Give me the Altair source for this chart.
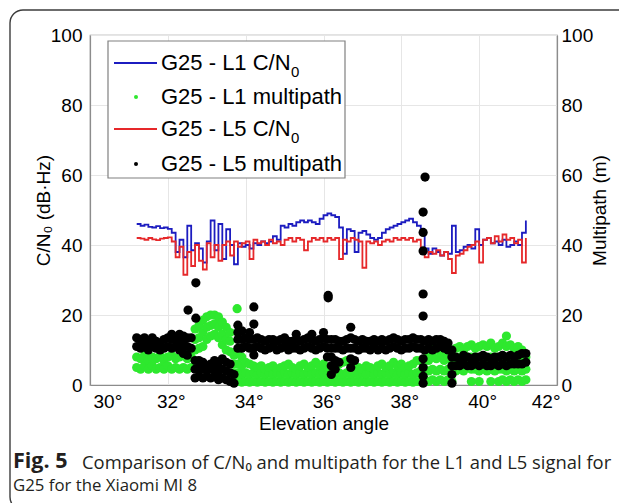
import altair as alt
import pandas as pd

# ---------------- data ----------------
ANGLES = [31.2, 31.3, 31.4, 31.5, 31.6, 31.7, 31.8, 31.9, 32.0, 32.1,
          32.2, 32.3, 32.4, 32.5, 32.6, 32.7, 32.8, 32.9, 33.0, 33.1,
          33.2, 33.3, 33.4, 33.5, 33.6, 33.7, 33.8, 33.9, 34.0, 34.1,
          34.2, 34.3, 34.4, 34.5, 34.6, 34.7, 34.8, 34.9, 35.0, 35.1,
          35.2, 35.3, 35.4, 35.5, 35.6, 35.7, 35.8, 35.9, 36.0, 36.1,
          36.2, 36.3, 36.4, 36.5, 36.6, 36.7, 36.8, 36.9, 37.0, 37.1,
          37.2, 37.3, 37.4, 37.5, 37.6, 37.7, 37.8, 37.9, 38.0, 38.1,
          38.2, 38.3, 38.4, 38.5, 38.6, 38.7, 38.8, 38.9, 39.0, 39.1,
          39.2, 39.3, 39.4, 39.5, 39.6, 39.7, 39.8, 39.9, 40.0, 40.1,
          40.2, 40.3, 40.4, 40.5, 40.6, 40.7, 40.8, 40.9, 41.0, 41.1,
          41.2]

L1_CN0 = [46.0, 45.5, 45.8, 45.2, 45.0, 45.4, 44.8, 45.0, 44.6, 43.5,
          38.0, 41.5, 36.5, 45.5, 38.5, 40.5, 39.0, 35.0, 41.0, 47.0,
          38.5, 46.0, 36.0, 44.5, 40.0, 34.5, 40.5, 39.5, 40.0, 39.0,
          40.5, 40.0, 41.0, 40.5, 41.0, 42.5, 41.5, 45.5, 45.0, 46.0,
          45.5, 46.5, 47.0, 46.5, 47.0, 46.5, 46.0, 47.5, 48.5, 49.0,
          48.5, 48.0, 45.0, 37.5, 44.5, 44.0, 38.0, 43.5, 44.0, 43.0,
          42.0, 41.5, 42.0, 43.5, 44.5, 45.0, 45.5, 46.0, 46.5, 47.0,
          47.5, 46.5, 45.5, 44.0, 39.0, 37.5, 39.0, 38.0, 37.0, 38.0,
          37.5, 45.5, 38.0, 38.5, 39.5, 40.0, 39.0, 44.5, 40.0, 41.5,
          42.0, 40.5, 41.0, 40.0, 41.5, 39.5, 40.0, 41.0, 40.0, 43.5,
          47.0]

L5_CN0 = [42.0, 41.8, 41.5, 42.0, 41.6, 41.4, 41.8, 42.0, 42.2, 41.0,
          36.5, 39.5, 31.5, 38.0, 34.0, 40.0, 35.5, 33.0, 40.5, 36.5,
          40.0, 35.5, 40.0, 41.0, 37.0, 41.0, 39.5, 40.5, 41.0, 36.0,
          41.5, 40.5, 41.0, 40.0, 41.5, 40.5, 41.0, 40.0, 41.5, 42.0,
          41.0, 42.0, 41.5, 38.5, 41.0, 42.0, 41.5, 42.0, 41.0, 42.0,
          41.5, 42.0, 36.0, 41.5, 41.0, 42.0, 41.5, 41.0, 33.5, 41.0,
          40.5, 41.0, 40.0, 41.0, 41.5, 41.0, 42.0, 41.5, 42.0, 41.5,
          42.0, 41.0, 41.5, 38.5, 36.5, 38.0, 37.5, 38.5, 37.0, 38.0,
          36.0, 32.0, 37.0, 37.5, 38.5, 39.5, 40.0, 41.0, 35.0, 41.5,
          42.0, 40.5, 42.5, 41.0, 43.0, 41.5, 42.0, 40.5, 41.5, 35.0,
          42.0]

L1_MP_ANGLE = [31.2, 31.3, 31.4, 31.5, 31.6, 31.7, 31.8, 31.9, 32.0, 32.1,
               32.2, 32.3, 32.4, 32.5, 32.6, 32.7, 32.8, 32.9, 33.0, 33.1,
               33.2, 33.3, 33.4, 33.5, 33.6, 33.78, 33.7, 33.8, 33.9, 34.0,
               34.1, 34.2, 34.3, 34.4, 34.5, 34.6, 34.7, 34.8, 34.9, 35.0,
               35.1, 35.2, 35.3, 35.4, 35.5, 35.6, 35.7, 35.8, 35.9, 36.0,
               36.1, 36.2, 36.3, 36.4, 36.5, 36.6, 36.7, 36.8, 36.9, 37.0,
               37.1, 37.2, 37.3, 37.4, 37.5, 37.6, 37.7, 37.8, 37.9, 38.0,
               38.1, 38.2, 38.3, 38.4, 38.5, 38.6, 38.7, 38.8, 38.9, 39.0,
               39.1, 39.2, 39.3, 39.4, 39.5, 39.6, 39.7, 39.8, 39.9, 40.0,
               40.1, 40.2, 40.3, 40.4, 40.5, 40.6, 40.7, 40.8, 40.9, 41.0,
               41.1, 41.2]
L1_MP_VALUES = [
    [5.0, 8.0], [4.5, 7.5], [5.5, 8.5], [4.5, 7.0], [5.5, 8.0],
    [4.5, 7.5], [5.0, 8.5], [4.5, 7.0], [5.5, 8.0], [4.5, 8.5],
    [5.0, 7.5], [4.5, 8.0], [5.0, 8.5], [4.5, 7.5], [5.0, 8.0],
    [10.0, 13.0, 16.0], [10.5, 13.5, 17.0], [11.0, 15.0, 18.5], [13.0, 16.5, 19.5], [14.0, 17.0, 20.0],
    [14.5, 17.5, 20.0], [13.5, 16.5, 19.5], [11.5, 14.5, 18.0], [10.0, 13.0, 16.5], [9.5, 12.5, 15.0],
    [21.8], [1.0, 3.5, 6.0, 8.5], [1.0, 3.5, 6.0, 9.0], [0.8, 3.0, 5.5, 8.0], [1.0, 3.5, 6.5],
    [0.8, 3.0, 6.0], [1.0, 3.5, 5.5], [0.8, 3.0, 5.0], [1.0, 3.5, 5.5], [0.8, 3.0, 4.5],
    [1.0, 3.5, 5.0], [0.8, 3.0, 5.5], [1.0, 3.5, 4.5], [0.8, 3.0, 5.0], [1.0, 3.5, 5.5],
    [0.8, 3.0, 6.0], [1.0, 3.5, 5.0], [0.8, 3.0, 4.5], [1.0, 3.5, 5.5], [0.8, 3.0, 6.0],
    [1.0, 3.5, 5.0], [0.8, 3.0, 5.5], [1.0, 3.5, 6.5], [0.8, 3.0, 5.5], [1.0, 3.5, 6.0],
    [0.8, 3.0, 5.0], [1.0, 3.5], [0.8, 3.0], [1.0, 3.5, 6.0], [0.8, 3.0, 6.5],
    [1.0, 3.5, 7.0], [0.8, 3.0, 6.0], [1.0, 3.5, 5.5], [0.8, 3.0, 5.0], [1.0, 3.5, 4.5],
    [0.8, 3.0, 5.5], [1.0, 3.5, 5.0], [0.8, 3.0, 4.5], [1.0, 3.5, 5.5], [0.8, 3.0, 6.0],
    [1.0, 3.5, 5.0], [0.8, 3.0, 5.5], [1.0, 3.5, 6.5], [0.8, 3.0, 5.5], [1.0, 3.5, 6.0],
    [0.8, 3.0, 5.0], [1.0, 3.5, 5.5], [0.8, 3.0, 6.0], [1.0, 3.5, 7.0], [1.0, 4.0, 7.0],
    [1.5, 4.5, 7.5], [1.0, 4.0, 7.0, 9.5], [1.5, 4.5, 8.0, 11.0], [1.0, 4.0, 7.5, 10.0], [1.5, 4.5, 8.0],
    [1.0, 4.0, 7.0, 9.5], [1.5, 4.5, 8.0, 10.5], [1.0, 4.0, 7.0], [4.0, 7.5, 10.5], [4.5, 8.0, 11.0],
    [4.0, 7.0, 10.0], [5.0, 8.0, 11.0], [1.0, 4.5, 8.0, 11.5], [4.5, 8.0, 10.5], [1.0, 4.0, 7.5, 11.0],
    [4.5, 8.0, 11.5], [4.0, 7.5, 11.0], [1.0, 4.5, 8.0, 12.0], [4.0, 7.0, 10.5], [1.0, 4.5, 8.0, 11.0],
    [1.5, 4.5, 8.0, 12.0], [1.0, 4.0, 7.5, 11.0, 14.0], [1.5, 4.5, 8.0, 11.5], [1.0, 4.0, 7.5, 10.5], [1.5, 4.5, 8.0, 11.0],
    [1.0, 4.0, 7.5, 10.0], [1.5, 4.5, 8.0],
]

L5_MP_ANGLE = [31.2, 31.3, 31.4, 31.5, 31.6, 31.7, 31.8, 31.9, 32.0, 32.1,
               32.2, 32.3, 32.4, 32.5, 32.6, 32.52, 32.72, 32.7, 32.8, 32.9,
               33.0, 33.1, 33.2, 33.3, 33.4, 33.5, 33.6, 33.7, 33.8, 33.8,
               33.9, 34.0, 34.1, 34.2, 34.21, 34.3, 34.4, 34.5, 34.6, 34.7,
               34.8, 34.9, 35.0, 35.1, 35.2, 35.3, 35.4, 35.5, 35.6, 35.7,
               35.8, 35.9, 36.0, 36.1, 36.12, 36.2, 36.3, 36.4, 36.5, 36.6,
               36.7, 36.8, 36.9, 37.0, 37.1, 37.2, 37.3, 37.4, 37.5, 37.6,
               37.7, 37.8, 37.9, 38.0, 38.1, 38.2, 38.3, 38.4, 38.56, 38.61,
               38.5, 38.6, 38.7, 38.8, 38.9, 39.0, 39.1, 39.2, 39.3, 39.4,
               39.5, 39.6, 39.7, 39.8, 39.9, 40.0, 40.1, 40.2, 40.3, 40.4,
               40.5, 40.6, 40.7, 40.8, 40.9, 41.0, 41.1, 41.2]
L5_MP_VALUES = [
    [11.0, 13.5], [10.5, 13.0], [11.5, 13.5], [10.0, 12.5], [11.0, 13.5],
    [10.5, 12.5], [10.0, 12.0], [10.5, 13.0], [11.0, 13.5], [10.5, 13.0, 14.5],
    [11.0, 13.5], [10.0, 12.5, 14.5], [9.0, 11.5, 14.0], [8.5, 11.0, 13.5], [10.5, 13.5],
    [21.4], [19.1, 29.2], [2.0, 4.5, 7.0], [2.5, 5.0, 7.0], [2.0, 4.5, 6.5],
    [2.5, 5.0], [2.0, 4.5, 6.0], [2.5, 5.0, 7.0], [1.5, 4.0, 6.5], [2.0, 4.5, 7.5],
    [1.5, 4.0, 6.5], [1.0, 3.5, 6.0], [0.5, 3.0], [17.1], [10.5, 13.0, 15.0],
    [10.5, 13.0, 15.5], [11.0, 13.5], [10.5, 13.0, 15.0], [10.5, 13.0], [8.6, 17.4, 22.3],
    [11.0, 13.5], [10.5, 13.0], [10.0, 12.5], [10.5, 13.0], [11.0, 13.0],
    [10.0, 12.5], [10.5, 13.0], [11.0, 13.5], [10.0, 12.5], [10.5, 12.5],
    [10.5, 13.0, 14.5], [10.0, 12.5], [10.5, 13.0], [11.0, 13.5], [10.5, 13.0, 14.5],
    [10.0, 12.5], [10.5, 13.0], [11.0, 13.5, 15.0], [8.0, 10.5, 13.0], [24.9, 25.6],
    [3.0, 5.5, 8.0, 10.5, 13.0], [4.5, 7.0, 10.5, 13.0], [6.5, 10.5, 12.5], [10.0, 12.5], [10.5, 13.0],
    [5.0, 7.5, 10.5, 13.5, 16.5], [7.0, 10.5, 13.0], [10.0, 12.5], [10.5, 13.0], [10.5, 12.5],
    [10.0, 12.5], [11.0, 13.0], [10.0, 12.5], [10.5, 13.0], [10.0, 12.5],
    [10.5, 13.0], [11.0, 13.5], [10.5, 13.0], [10.0, 12.5], [10.5, 13.0],
    [10.5, 13.0], [11.0, 13.5], [10.5, 13.0], [0.5, 2.5, 5.0, 7.5, 19.7, 26.0, 38.3, 43.6, 49.4], [59.4],
    [10.5, 13.0], [10.0, 12.5], [10.5, 13.0], [10.0, 12.5], [10.5, 13.0],
    [11.0, 13.0], [10.5, 12.5], [10.0, 12.0], [0.5, 3.0, 5.5, 8.0, 10.0], [5.5, 8.0],
    [5.5, 7.5], [6.0, 8.5], [5.5, 8.0], [5.5, 7.5], [6.0, 8.0],
    [5.5, 8.0], [6.0, 8.5], [5.5, 8.0], [5.5, 7.5], [6.0, 8.0],
    [5.5, 8.0], [6.0, 8.5], [5.5, 8.0], [6.0, 8.5], [6.0, 8.0],
    [6.0, 8.5], [6.0, 9.0], [6.5, 9.0],
]

SERIES = ["G25 - L1 C/N0", "G25 - L1 multipath", "G25 - L5 C/N0", "G25 - L5 multipath"]
COLORS = ["#1c1cc0", "#2ee82e", "#e6282a", "#000000"]
LEGEND_MAIN = ["G25 - L1 C/N", "G25 - L1 multipath", "G25 - L5 C/N", "G25 - L5 multipath"]
LEGEND_SUB = ["0", "", "0", ""]
X_TICKS = [30, 32, 34, 36, 38, 40, 42]
Y_TICKS = [0, 20, 40, 60, 80, 100]

# ---------------- tables ----------------
line_df = pd.concat([
    pd.DataFrame({"angle": ANGLES, "value": L1_CN0, "series": SERIES[0]}),
    pd.DataFrame({"angle": ANGLES, "value": L5_CN0, "series": SERIES[2]}),
])


def expand(angles, values, name):
    rows = []
    for a, vs in zip(angles, values):
        for v in vs:
            rows.append({"angle": a, "value": v, "series": name})
    return pd.DataFrame(rows)


pts_df = pd.concat([
    expand(L1_MP_ANGLE, L1_MP_VALUES, SERIES[1]),
    expand(L5_MP_ANGLE, L5_MP_VALUES, SERIES[3]),
], ignore_index=True)

W, H = 467, 350
FONT = "Liberation Sans"
CAP_FONT = "Open Sans"
ONE = pd.DataFrame({"k": [0]})

color = alt.Color("series:N", scale=alt.Scale(domain=SERIES, range=COLORS), legend=None)
xenc = alt.X("angle:Q", scale=alt.Scale(domain=[30, 42], nice=False),
             axis=alt.Axis(values=X_TICKS, labelExpr="datum.value + '°'", title="Elevation angle",
                           grid=True, ticks=False, labelPadding=7, labelOffset=3,
                           titlePadding=3))

lines = alt.Chart(line_df).mark_line(strokeWidth=1.8, interpolate="step-after").encode(
    x=xenc,
    y=alt.Y("value:Q", scale=alt.Scale(domain=[0, 100], nice=False),
            axis=alt.Axis(values=Y_TICKS, title="C/N₀ (dB·Hz)", grid=True, ticks=False,
                          labelPadding=8, titleX=-47, titleY=H / 2, titleBaseline="middle")),
    color=color,
    detail="series:N",
)

points = alt.Chart(pts_df).mark_circle(size=85, opacity=1).encode(
    x=xenc,
    y=alt.Y("value:Q", scale=alt.Scale(domain=[0, 100], nice=False),
            axis=alt.Axis(values=Y_TICKS, title="Multipath (m)", orient="right", grid=False,
                          ticks=False, labelPadding=4, titleX=42, titleY=H / 2,
                          titleAngle=270, titleBaseline="middle")),
    color=color,
)


def vtext(txt, x, y, size, weight="normal", font=FONT, color_="#000000"):
    return alt.Chart(ONE).mark_text(align="left", baseline="middle", font=font, fontSize=size,
                                    fontWeight=weight, color=color_).encode(
        x=alt.value(x), y=alt.value(y), text=alt.value(txt))


border = alt.Chart(ONE).mark_rect(fillOpacity=0, stroke="#3c3c3c", strokeWidth=1.4,
                                  cornerRadius=13).encode(
    x=alt.value(-80), x2=alt.value(W + 100), y=alt.value(-25), y2=alt.value(H + 125))

legend_box = alt.Chart(ONE).mark_rect(fill="white", stroke="#808080", strokeWidth=1.2).encode(
    x=alt.value(18), x2=alt.value(255), y=alt.value(6), y2=alt.value(143))

ROW_Y = [28, 62, 94, 129]
legend_layers = [legend_box]
for i, name in enumerate(SERIES):
    ry = ROW_Y[i]
    if i in (0, 2):
        legend_layers.append(alt.Chart(ONE).mark_rule(color=COLORS[i], strokeWidth=2).encode(
            x=alt.value(24), x2=alt.value(67), y=alt.value(ry)))
    else:
        legend_layers.append(alt.Chart(ONE).mark_point(shape="circle", filled=True, size=16,
                                                        color=COLORS[i], opacity=1).encode(
            x=alt.value(46), y=alt.value(ry)))
    legend_layers.append(vtext(LEGEND_MAIN[i], 71, ry, 22))
    if LEGEND_SUB[i]:
        legend_layers.append(vtext(LEGEND_SUB[i], 201, ry + 9, 15))

caption = [
    vtext("Fig. 5", -77, 427, 21.5, weight="bold", font=CAP_FONT, color_="#231f20"),
    vtext("Comparison of C/N₀ and multipath for the L1 and L5 signal for", -8, 428, 18.4,
          font=CAP_FONT, color_="#231f20"),
    vtext("G25 for the Xiaomi MI 8", -77, 451, 16.8, font=CAP_FONT, color_="#231f20"),
]

chart = alt.layer(border, lines, points, *legend_layers, *caption).resolve_scale(
    y="independent"
).properties(
    width=W, height=H,
    autosize=alt.AutoSizeParams(type="none"),
    padding={"left": 90, "top": 35, "right": 62, "bottom": 118},
    background="white",
).configure_view(
    stroke="#8c8c8c", strokeWidth=1.2
).configure_axis(
    labelFont=FONT, titleFont=FONT, labelFontSize=19, titleFontSize=19,
    labelColor="#000000", titleColor="#000000", titleFontWeight="normal",
    domainColor="#8c8c8c", domainWidth=1.2, gridColor="#e6e6e6", gridWidth=1,
)

chart.save("out.html", embed_options={"renderer": "svg", "actions": False})
